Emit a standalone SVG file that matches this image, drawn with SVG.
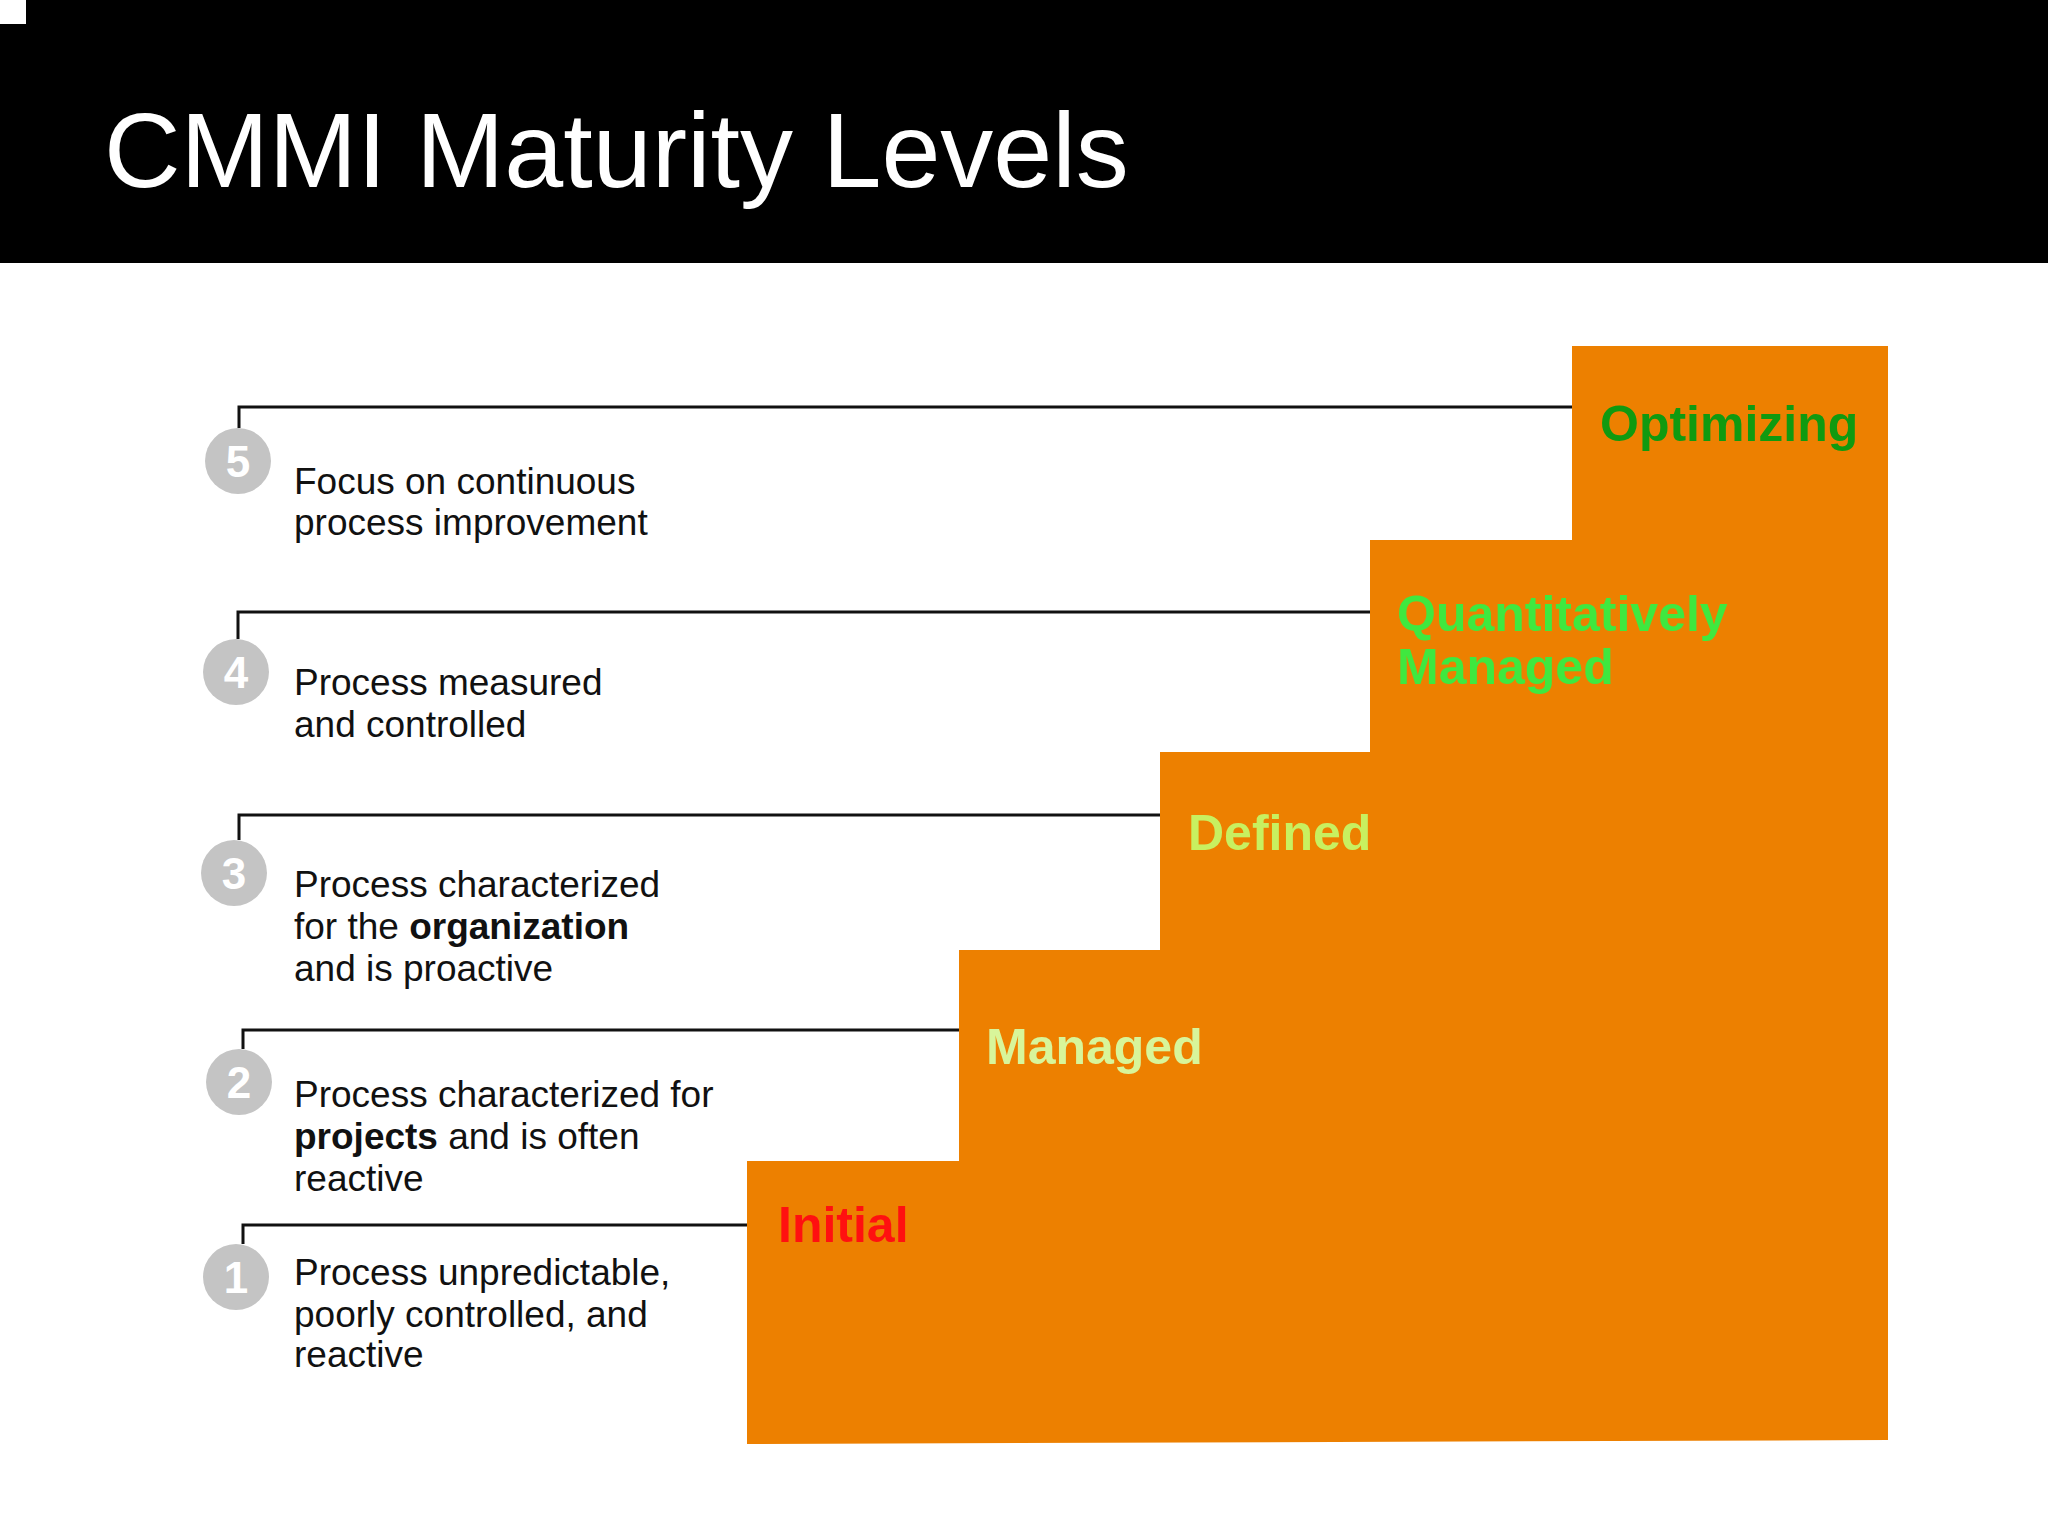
<svg xmlns="http://www.w3.org/2000/svg" width="2048" height="1534" viewBox="0 0 2048 1534">
<style>
.d{font-family:"Liberation Sans",Arial,sans-serif;font-size:37px;fill:#111}
.lbl{font-family:"Liberation Sans",Arial,sans-serif;font-size:50px;font-weight:bold}
.num{font-family:"Liberation Sans",Arial,sans-serif;font-size:44px;font-weight:bold;fill:#fff;text-anchor:middle}
.c{fill:#c4c4c4}
.ln{stroke:#111;stroke-width:3;fill:none}
</style>
<rect width="2048" height="1534" fill="#fff"/>
<rect x="0" y="0" width="2048" height="263" fill="#000"/>
<rect x="0" y="0" width="26" height="24" fill="#fff"/>
<text x="104" y="187" font-family="Liberation Sans,Arial,sans-serif" font-size="106" fill="#fff">CMMI Maturity Levels</text>
<g id="stairs"><polygon points="747,1161 959,1161 959,950 1160,950 1160,752 1370,752 1370,540 1572,540 1572,346 1888,346 1888,1440 747,1444" fill="#ED8000"/></g>
<g id="connectors">
<path class="ln" d="M239,428 V407 H1572"/>
<path class="ln" d="M238,639 V612 H1370"/>
<path class="ln" d="M239,840 V815 H1160"/>
<path class="ln" d="M243,1049 V1030 H959"/>
<path class="ln" d="M243,1244 V1225 H747"/>
</g>
<g id="level5"><circle class="c" cx="238" cy="461" r="33"/><text class="num" x="238" y="477">5</text>
<text class="d" x="294" y="494">Focus on continuous</text><text class="d" x="294" y="535">process improvement</text>
<text class="lbl" x="1600" y="441" fill="#109a10">Optimizing</text></g>
<g id="level4"><circle class="c" cx="236" cy="672" r="33"/><text class="num" x="236" y="688">4</text>
<text class="d" x="294" y="695">Process measured</text><text class="d" x="294" y="737">and controlled</text>
<text class="lbl" x="1397" y="631" fill="#3fe83f">Quantitatively</text><text class="lbl" x="1397" y="684" fill="#3fe83f">Managed</text></g>
<g id="level3"><circle class="c" cx="234" cy="873" r="33"/><text class="num" x="234" y="889">3</text>
<text class="d" x="294" y="897">Process characterized</text><text class="d" x="294" y="939">for the <tspan font-weight="bold">organization</tspan></text><text class="d" x="294" y="981">and is proactive</text>
<text class="lbl" x="1188" y="850" fill="#c8f060">Defined</text></g>
<g id="level2"><circle class="c" cx="239" cy="1082" r="33"/><text class="num" x="239" y="1098">2</text>
<text class="d" x="294" y="1107">Process characterized for</text><text class="d" x="294" y="1149"><tspan font-weight="bold">projects</tspan> and is often</text><text class="d" x="294" y="1191">reactive</text>
<text class="lbl" x="986" y="1064" fill="#d8f59a">Managed</text></g>
<g id="level1"><circle class="c" cx="236" cy="1277" r="33"/><text class="num" x="236" y="1293">1</text>
<text class="d" x="294" y="1285">Process unpredictable,</text><text class="d" x="294" y="1327">poorly controlled, and</text><text class="d" x="294" y="1367">reactive</text>
<text class="lbl" x="778" y="1242" fill="#ff1010">Initial</text></g>
</svg>
